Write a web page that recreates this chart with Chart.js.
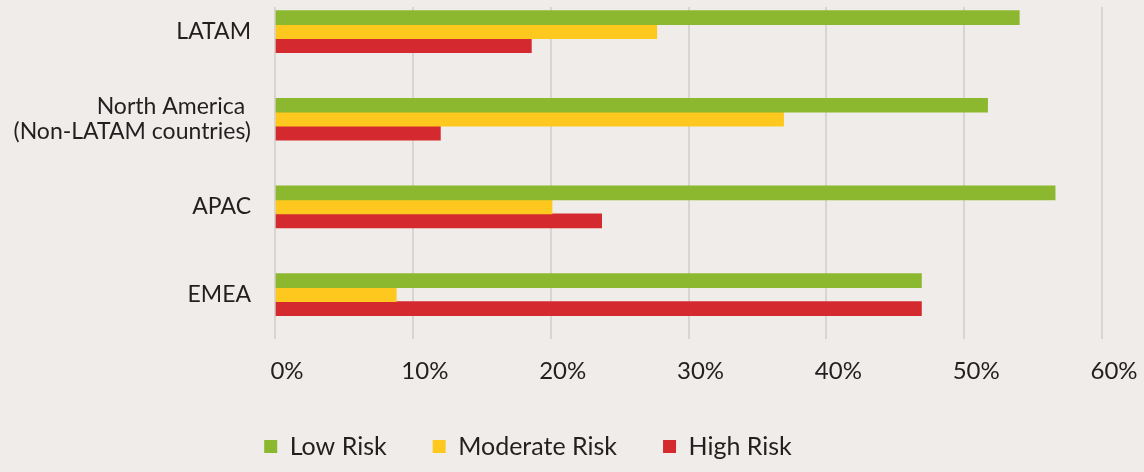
<!DOCTYPE html>
<html>
<head>
<meta charset="utf-8">
<script src="https://cdn.jsdelivr.net/npm/chart.js@4"></script>
<style>
    html, body { margin: 0; padding: 0; background: #f0ece9; }
    #wrap { width: 1144px; height: 472px; position: relative; }
</style>
</head>
<body>
<div id="wrap"><canvas id="riskChart"></canvas></div>
<script>
// regions, top to bottom
const regions = ["LATAM", ["North America ", "(Non-LATAM countries)"], "APAC", "EMEA"];
// share of companies per risk level (%)
const lowRisk = [54.0, 51.7, 56.6, 46.9];
const moderateRisk = [27.7, 36.9, 20.1, 8.8];
const highRisk = [18.6, 12.0, 23.7, 46.9];
const xTicks = [0, 10, 20, 30, 40, 50, 60];

const seriesNames = ["Low Risk", "Moderate Risk", "High Risk"];
const seriesColors = ["#8cb82f", "#fec81e", "#d42a2f"];

const textColor = "#231f20";
const gridColor = "#d8d4d0";
const fontFamily = "Lato";

// bars sit on a numeric index axis (0..3), one row per region
function toPoints(values) {
    return values.map((v, i) => ({ x: v, y: i }));
}

const datasets = [lowRisk, moderateRisk, highRisk].map((vals, i) => ({
    label: seriesNames[i],
    data: toPoints(vals),
    backgroundColor: seriesColors[i],
    borderWidth: 0,
    barThickness: 14
}));

new Chart(document.getElementById("riskChart"), {
    type: "bar",
    data: { datasets: datasets },
    options: {
        indexAxis: "y",
        responsive: true,
        maintainAspectRatio: false,
        animation: false,
        // left padding < 0 nudges the centred legend left; the y axis width makes up for it
        layout: { padding: { top: 7, right: 42, left: -46, bottom: 3 } },
        scales: {
            x: {
                type: "linear",
                min: xTicks[0],
                max: xTicks[xTicks.length - 1],
                afterBuildTicks: s => { s.ticks = xTicks.map(v => ({ value: v })); },
                afterFit: s => { s.height = 49; },
                grid: { color: gridColor, lineWidth: 2, drawTicks: false },
                border: { display: false },
                ticks: {
                    color: textColor,
                    font: { family: fontFamily, size: 24 },
                    padding: 18,
                    labelOffset: 12,
                    callback: v => v + "%"
                }
            },
            y: {
                type: "linear",
                reverse: true,
                offset: false,
                min: -0.28,
                max: 3.507,
                afterBuildTicks: s => {
                    s.ticks = regions.map((r, i) => ({ value: i }));
                },
                // fixed label column; labels may hang past the plot edges
                afterFit: s => {
                    s.width = 321;
                    s.paddingTop = 0;
                    s.paddingBottom = 0;
                },
                grid: { display: false, drawTicks: false, offset: false },
                border: { display: false },
                ticks: {
                    color: textColor,
                    font: { family: fontFamily, size: 23, lineHeight: 1.1 },
                    padding: 24,
                    autoSkip: false,
                    callback: v => regions[v]
                }
            }
        },
        plugins: {
            tooltip: { enabled: false },
            legend: {
                position: "bottom",
                labels: {
                    color: textColor,
                    font: { family: fontFamily, size: 25 },
                    boxWidth: 13,
                    boxHeight: 13,
                    padding: 46
                }
            }
        }
    }
});
</script>
</body>
</html>
